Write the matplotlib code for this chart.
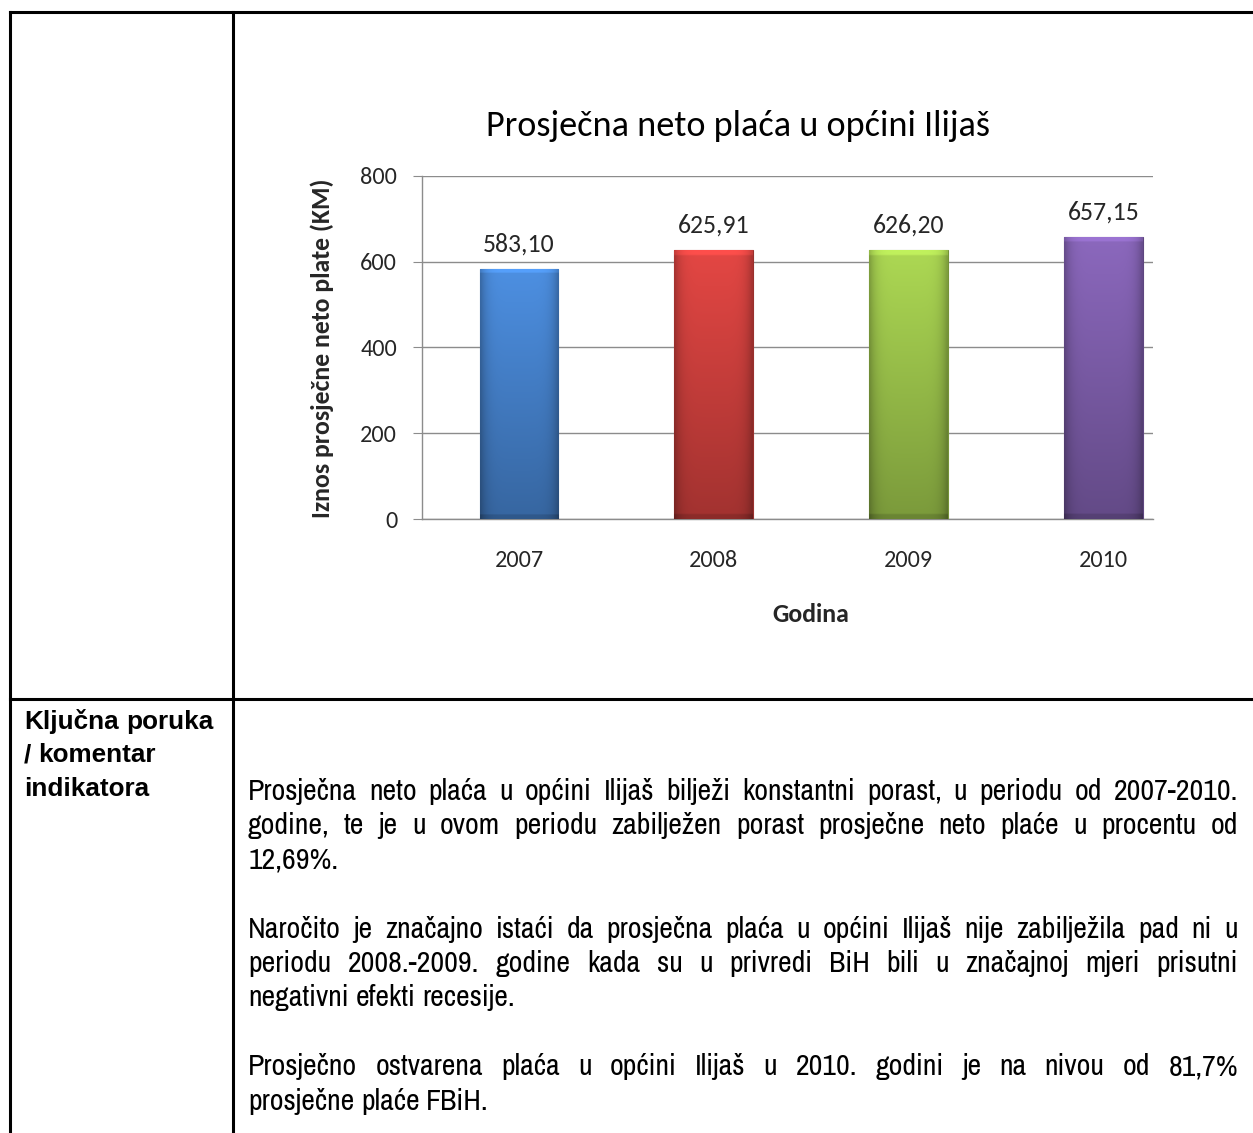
import numpy as np
import matplotlib
matplotlib.use("Agg")
import matplotlib.pyplot as plt
from matplotlib import font_manager as fm
from matplotlib.colors import to_rgb
from matplotlib.lines import Line2D

# ── Data ─────────────────────────────────────────────────────────────────────
years    = ["2007", "2008", "2009", "2010"]
salaries = [583.10, 625.91, 626.20, 657.15]
y_ticks  = [0, 200, 400, 600, 800]

title   = "Prosječna neto plaća u općini Ilijaš"
x_label = "Godina"
y_label = "Iznos prosječne neto plate (KM)"

side_label = ["Ključna poruka", "/ komentar", "indikatora"]
paragraphs = [
    ["Prosječna neto plaća u općini Ilijaš bilježi konstantni porast, u periodu od 2007-2010.",
     "godine, te je u ovom periodu zabilježen porast prosječne neto plaće u procentu od",
     "12,69%."],
    ["Naročito je značajno istaći da prosječna plaća u općini Ilijaš nije zabilježila pad ni u",
     "periodu 2008.-2009. godine kada su u privredi BiH bili u značajnoj mjeri prisutni",
     "negativni efekti recesije."],
    ["Prosječno ostvarena plaća u općini Ilijaš u 2010. godini je na nivou od 81,7%",
     "prosječne plaće FBiH."],
]

# ── Style ────────────────────────────────────────────────────────────────────
bar_colors = ["#4a8ad9", "#db4441", "#a6d050", "#8664b6"]
GRID = "#8c8c8c"
TEXT = "#262626"

weights = {}
for f in fm.fontManager.ttflist:
    w = f.weight if isinstance(f.weight, int) else fm.weight_dict.get(f.weight, 400)
    weights.setdefault(f.name, set()).add(w)


def pick(prefs, need_bold=False):
    for p in prefs:
        ws = weights.get(p, set())
        if ws and (not need_bold or max(ws) >= 600):
            return [p, "DejaVu Sans"]
    return ["DejaVu Sans"]


CHART_FONT = pick(["Carlito", "Lato", "Open Sans"], need_bold=True)
# narrow grotesque for the body (the document text is squeezed Arial)
DOC_FONT = pick(["Liberation Sans Narrow", "Arial Narrow", "Nimbus Sans Narrow",
                 "Archivo Narrow", "Roboto Condensed", "Liberation Sans"])
SIDE_FONT = pick(["Liberation Sans Narrow", "Arial Narrow", "Nimbus Sans Narrow",
                  "Liberation Sans", "Arimo"], need_bold=True)

W, H = 1253, 1133
fig = plt.figure(figsize=(W / 100, H / 100), dpi=100)
fig.patch.set_facecolor("white")

# background axes in pixel coordinates for the document table
bg = fig.add_axes([0, 0, 1, 1])
bg.set_xlim(0, W)
bg.set_ylim(H, 0)
bg.axis("off")

LW = 2.2
for xs, ys in [((10, W), (12, 12)), ((10, 10), (12, H)), ((233, 233), (12, H)),
               ((10, W), (699, 699))]:
    bg.add_line(Line2D(xs, ys, color="black", lw=LW, solid_capstyle="projecting"))

# ── Chart ────────────────────────────────────────────────────────────────────
ax_l, ax_r, ax_t, ax_b = 421.5, 1152.6, 175.7, 519.3
ax = fig.add_axes([ax_l / W, 1 - ax_b / H, (ax_r - ax_l) / W, (ax_b - ax_t) / H])
ax.set_facecolor("none")

x = np.arange(len(years))
BW = 0.405
bars = ax.bar(x, salaries, width=BW, color=bar_colors, zorder=3)

# shaded / bevelled look like the Excel bars
for b, c in zip(bars, bar_colors):
    base = np.array(to_rgb(c))
    ny, nx = 160, 40
    t = np.linspace(0, 1, ny)[:, None]
    s = np.abs(np.linspace(-1, 1, nx))[None, :]
    fac = (1.04 - 0.30 * t) * (1 - 0.25 * s ** 6)
    fac = fac + 0.12 * (t < 0.018) - 0.10 * (t > 0.985)
    img = np.clip(base[None, None, :] * fac[:, :, None], 0, 1)
    bx, bw, bh = b.get_x(), b.get_width(), b.get_height()
    im = ax.imshow(img, extent=[bx, bx + bw, 0, bh], aspect="auto",
                   origin="upper", zorder=3.5, interpolation="bilinear")
    im.set_clip_path(b)
    b.set_edgecolor(base * 0.7)
    b.set_linewidth(0.8)

for xi, v in zip(x, salaries):
    ax.annotate(f"{v:.2f}".replace(".", ","), (xi, v), xytext=(0, 18),
                textcoords="offset points", ha="center", va="center",
                fontsize=18.5, color=TEXT, family=CHART_FONT)

ax.set_xlim(-0.5, 3.25)
ax.set_ylim(0, 800)
ax.set_yticks(y_ticks)
ax.set_xticks(x)
ax.set_xticklabels(years)
ax.grid(axis="y", color=GRID, lw=1.0, zorder=1)
ax.set_axisbelow(True)
for sp in ["top", "right"]:
    ax.spines[sp].set_visible(False)
for sp in ["left", "bottom"]:
    ax.spines[sp].set_color(GRID)
    ax.spines[sp].set_linewidth(1.0)
ax.tick_params(axis="y", length=6.5, width=0.8, color=GRID, pad=11,
               labelsize=17.5, labelcolor=TEXT)
ax.tick_params(axis="x", length=0, pad=22, labelsize=17.5, labelcolor=TEXT)
for lab in ax.get_xticklabels() + ax.get_yticklabels():
    lab.set_family(CHART_FONT)

ax.set_xlabel(x_label, fontsize=18.5, fontweight="bold", color=TEXT, family=CHART_FONT)
ax.xaxis.set_label_coords((811 - ax_l) / (ax_r - ax_l), (ax_b - 615) / (ax_b - ax_t))
ax.xaxis.label.set_va("center")
ax.set_ylabel(y_label, fontsize=18.5, fontweight="bold", color=TEXT, family=CHART_FONT)
ax.yaxis.set_label_coords((322 - ax_l) / (ax_r - ax_l), (ax_b - 348) / (ax_b - ax_t))
ax.yaxis.label.set_va("center")

ax.text((738 - ax_l) / (ax_r - ax_l), (ax_b - 126) / (ax_b - ax_t), title,
        transform=ax.transAxes, ha="center", va="center", fontsize=26,
        color="black", family=CHART_FONT)

# ── Document text ────────────────────────────────────────────────────────────
renderer = fig.canvas.get_renderer()
X0, X1 = 248, 1238


def word_width(word, fs, family, **kw):
    t = bg.text(0, 0, word, fontsize=fs, family=family, **kw)
    w = t.get_window_extent(renderer).width
    t.remove()
    return w


# size the body face so its widest line nearly fills the cell, as in Word
FS = 20.0
widest = max(word_width(ln, FS, DOC_FONT) for para in paragraphs for ln in para[:-1])
FS = min(21.5, FS * ((X1 - X0) - 4) / widest)
FS_SIDE = 20.0
widest_side = word_width(side_label[0], FS_SIDE, SIDE_FONT, fontweight="bold")
FS_SIDE = min(21.5, FS_SIDE * 188 / widest_side)


def draw_line(line, x0, x1, y, justify, fs, family, **kw):
    words = line.split(" ")
    widths = [word_width(w, fs, family, **kw) for w in words]
    if justify and len(words) > 1:
        gap = (x1 - x0 - sum(widths)) / (len(words) - 1)
    else:
        gap = word_width("a a", fs, family, **kw) - word_width("aa", fs, family, **kw)
    xp = x0
    for w, wd in zip(words, widths):
        bg.text(xp, y, w, fontsize=fs, family=family, ha="left",
                va="baseline", color="black", **kw)
        xp += wd + gap


LS = 34.4
for i, line in enumerate(side_label):
    draw_line(line, 24, 220, 729 + i * 33.5, False, FS_SIDE, SIDE_FONT,
              fontweight="bold")

y0 = 800
row = 0
for para in paragraphs:
    for j, line in enumerate(para):
        last = j == len(para) - 1
        draw_line(line, X0, X1, y0 + row * LS, not last, FS, DOC_FONT)
        row += 1
    row += 1

fig.savefig("out.png", dpi=100)
